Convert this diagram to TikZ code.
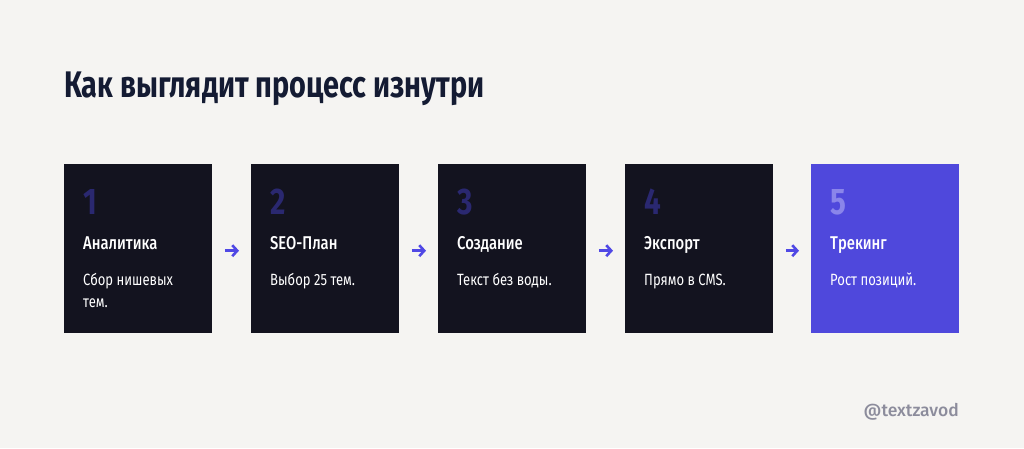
\documentclass[tikz,border=0pt]{standalone}
\usepackage{fontspec}
\setmainfont{Fira Sans}
\newfontfamily\titlefont[FakeStretch=0.78]{Fira Sans Bold}
\newfontfamily\numfont[FakeStretch=0.8]{Fira Sans Bold}
\newfontfamily\headfont[FakeStretch=0.8]{Fira Sans Medium}
\newfontfamily\bodyfont[FakeStretch=0.8]{Fira Sans}
\newfontfamily\handlefont{Fira Sans Medium}
\usetikzlibrary{arrows.meta}
\definecolor{bg}{HTML}{F5F4F2}
\definecolor{boxdark}{HTML}{13131F}
\definecolor{boxblue}{HTML}{4F48DC}
\definecolor{numdark}{HTML}{2A2870}
\definecolor{numlight}{HTML}{8A85EA}
\definecolor{titlec}{HTML}{141B33}
\definecolor{arrowc}{HTML}{5048E5}
\definecolor{handle}{HTML}{8C8C9C}
\tikzset{
  card/.style={fill=boxdark, minimum width=148pt, minimum height=169pt, inner sep=0pt, anchor=north west},
  numtxt/.style={anchor=base west, inner sep=0pt, font=\numfont\fontsize{37}{40}\selectfont, text=numdark},
  headtxt/.style={anchor=base west, inner sep=0pt, font=\headfont\fontsize{18.5}{20}\selectfont, text=white},
  bodytxt/.style={anchor=base west, inner sep=0pt, align=left, font=\bodyfont\fontsize{16.3}{22.5}\selectfont, text=white},
  flow/.style={draw=arrowc, line width=2.6pt, -{Straight Barb[length=5pt,width=11pt]}, shorten <=12.5pt, shorten >=12pt}
}
\begin{document}
\begin{tikzpicture}[x=1pt,y=-1pt]
\useasboundingbox (0,0) rectangle (1024,448);
\fill[bg] (0,0) rectangle (1024,448);
\node[anchor=base west, inner sep=0pt, text=titlec, font=\titlefont\fontsize{37}{40}\selectfont] (title) at (64,97) {Как выглядит процесс изнутри};
% cards
\node[card] (b1) at (64,164) {};
\node[card] (b2) at (251,164) {};
\node[card] (b3) at (438,164) {};
\node[card] (b4) at (625,164) {};
\node[card, fill=boxblue] (b5) at (811,164) {};
% numbers
\node[numtxt] (n1) at (83,214) {1};
\node[numtxt] (n2) at (270,214) {2};
\node[numtxt] (n3) at (457,214) {3};
\node[numtxt] (n4) at (644,214) {4};
\node[numtxt, text=numlight] (n5) at (830,214) {5};
% headings
\node[headtxt] (h1) at (83,249) {Аналитика};
\node[headtxt] (h2) at (270,249) {SEO-План};
\node[headtxt] (h3) at (457,249) {Создание};
\node[headtxt] (h4) at (644,249) {Экспорт};
\node[headtxt] (h5) at (830,249) {Трекинг};
% bodies
\node[bodytxt] (t1) at (83,307.5) {Сбор нишевых\\тем.};
\node[bodytxt] (t2) at (270,285) {Выбор 25 тем.};
\node[bodytxt] (t3) at (457,285) {Текст без воды.};
\node[bodytxt] (t4) at (644,285) {Прямо в CMS.};
\node[bodytxt] (t5) at (830,285) {Рост позиций.};
% arrows
\draw[flow] ([yshift=-2pt]b1.east) -- ([yshift=-2pt]b2.west);
\draw[flow] ([yshift=-2pt]b2.east) -- ([yshift=-2pt]b3.west);
\draw[flow] ([yshift=-2pt]b3.east) -- ([yshift=-2pt]b4.west);
\draw[flow] ([yshift=-2pt]b4.east) -- ([yshift=-2pt]b5.west);
% handle
\node[anchor=base east, inner sep=0pt, text=handle, font=\handlefont\fontsize{17.5}{18}\selectfont] (handle) at (959,416) {@textzavod};
\end{tikzpicture}
\end{document}
